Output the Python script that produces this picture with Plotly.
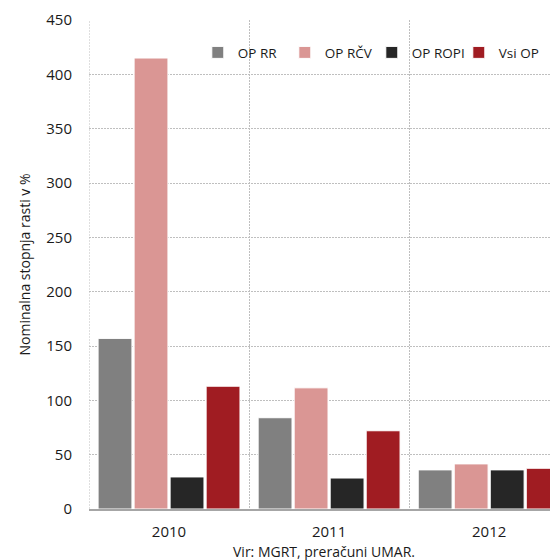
import plotly.graph_objects as go

years = ["2010", "2011", "2012"]
series_names = ["OP RR", "OP RČV", "OP ROPI", "Vsi OP"]
op_rr = [157, 84, 36]
op_rcv = [415, 111.5, 41.5]
op_ropi = [29.5, 28.5, 36]
vsi_op = [113, 72, 37.5]
colors = ["#808080", "#DA9694", "#262626", "#A01C22"]
y_ticks = [0, 50, 100, 150, 200, 250, 300, 350, 400, 450]

FONT = "Open Sans"
GRID = "#bfbfbf"
DASH = "2px,1px"
fig = go.Figure()
for name, vals, col in zip(series_names, [op_rr, op_rcv, op_ropi, vsi_op], colors):
    fig.add_trace(go.Bar(x=years, y=vals, name=name,
                         marker=dict(color=col, line=dict(color="white", width=1))))

# page body has an 8px margin, so the figure is 550x552 and shifted accordingly
fig.update_layout(
    width=550, height=552,
    margin=dict(l=81, r=0, t=12, b=51, autoexpand=False),
    paper_bgcolor="white", plot_bgcolor="white",
    font=dict(family=FONT, size=15, color="#1a1a1a"),
    barmode="group", bargap=0.1, bargroupgap=0.06,
    showlegend=True,
    legend=dict(orientation="h", x=0.232, y=0.965, xanchor="left", yanchor="top",
                bgcolor="rgba(0,0,0,0)", font=dict(size=13.5), traceorder="normal",
                itemwidth=30, entrywidth=42),
    xaxis=dict(type="category", range=[-0.5, 2.43], tickson="boundaries",
               showgrid=True, gridcolor=GRID, griddash=DASH, gridwidth=1,
               showline=True, linecolor="#a6a6a6", linewidth=2, automargin=False,
               ticks="", ticklabelstandoff=8),
    yaxis=dict(range=[0, 450], tickvals=y_ticks, showgrid=True, gridcolor=GRID,
               griddash=DASH, gridwidth=1, zeroline=False, showline=False,
               ticks="", ticklabelstandoff=16, automargin=False,
               title=dict(text="Nominalna stopnja rasti v %", standoff=12, font=dict(size=14))),
    annotations=[dict(text="Vir: MGRT, preračuni UMAR.", xref="paper", yref="paper",
                      x=0.5, y=-0.086, xanchor="center", yanchor="middle",
                      showarrow=False, font=dict(size=14, family=FONT))],
)
fig.add_shape(type="line", xref="x", yref="paper", x0=-0.5, x1=-0.5, y0=0, y1=1,
              line=dict(color=GRID, width=1, dash=DASH))
fig.write_html("out.html")
